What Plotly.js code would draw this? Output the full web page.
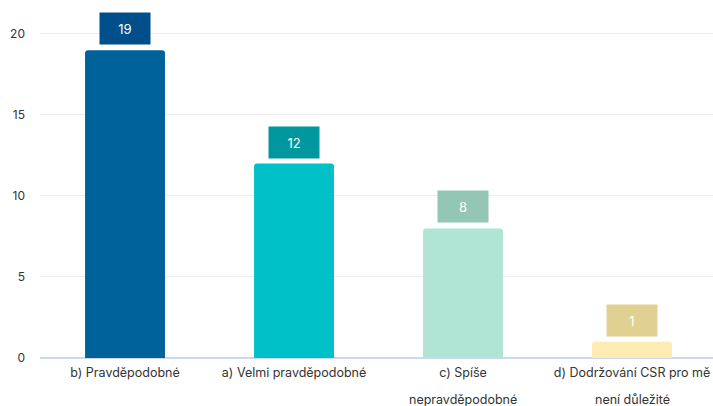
<!DOCTYPE html>
<html><head><meta charset="utf-8">
<script src="https://cdn.plot.ly/plotly-3.0.1.min.js"></script>
<style>html,body{margin:0;padding:0;background:#fff}#chart{width:713px;height:406px}</style>
</head><body><div id="chart"></div>
<script>
const categories = ["b) Pravděpodobné", "a) Velmi pravděpodobné", "c) Spíše", "d) Dodržování CSR pro mě"];
const labelSecondLines = ["", "", "nepravděpodobné", "není důležité"];
const values = [19, 12, 8, 1];
const barColors = ["#00629b", "#00c1c8", "#b0e4d4", "#feecb3"];
const labelColors = ["#004f8a", "#00979e", "#93c6b4", "#e0d092"];
const yTicks = [0, 5, 10, 15, 20];

const font = "Inter, 'Noto Sans', sans-serif";
const annotations = values.map((v, i) => ({
  x: categories[i], y: v, xref: "x", yref: "y",
  text: String(v), showarrow: false, yanchor: "bottom", yshift: 5,
  width: 50, height: 31, bgcolor: labelColors[i], borderpad: 0,
  font: {family: font, size: 13, color: "#ffffff"}
}));
labelSecondLines.forEach((t, i) => {
  if (!t) return;
  annotations.push({
    x: categories[i], y: 0, xref: "x", yref: "paper",
    text: t, showarrow: false, yanchor: "middle", yshift: -41,
    font: {family: font, size: 12.5, color: "#333"}
  });
});

Plotly.newPlot("chart", [{
  type: "bar", x: categories, y: values,
  marker: {color: barColors, cornerradius: 3},
  hoverinfo: "none"
}], {
  width: 713, height: 406,
  margin: {l: 40, r: 0, t: 10, b: 48},
  paper_bgcolor: "#fff", plot_bgcolor: "#fff",
  bargap: 0.527,
  showlegend: false,
  font: {family: font, size: 12, color: "#333"},
  xaxis: {range: [-0.503, 3.479], showgrid: false, zeroline: false, showline: false, ticks: "",
    ticklabelstandoff: 5,
    tickfont: {family: font, size: 12.5, color: "#333"}},
  yaxis: {range: [0, 21.48], tickvals: yTicks, ticktext: yTicks.map(String),
    showgrid: true, gridcolor: "#ececec", gridwidth: 1,
    zeroline: true, zerolinecolor: "#c9d9ef", zerolinewidth: 1.5,
    ticklabelstandoff: 14, tickfont: {family: font, size: 12, color: "#333"}},
  annotations: annotations
}, {displayModeBar: false, staticPlot: true});
</script></body></html>
